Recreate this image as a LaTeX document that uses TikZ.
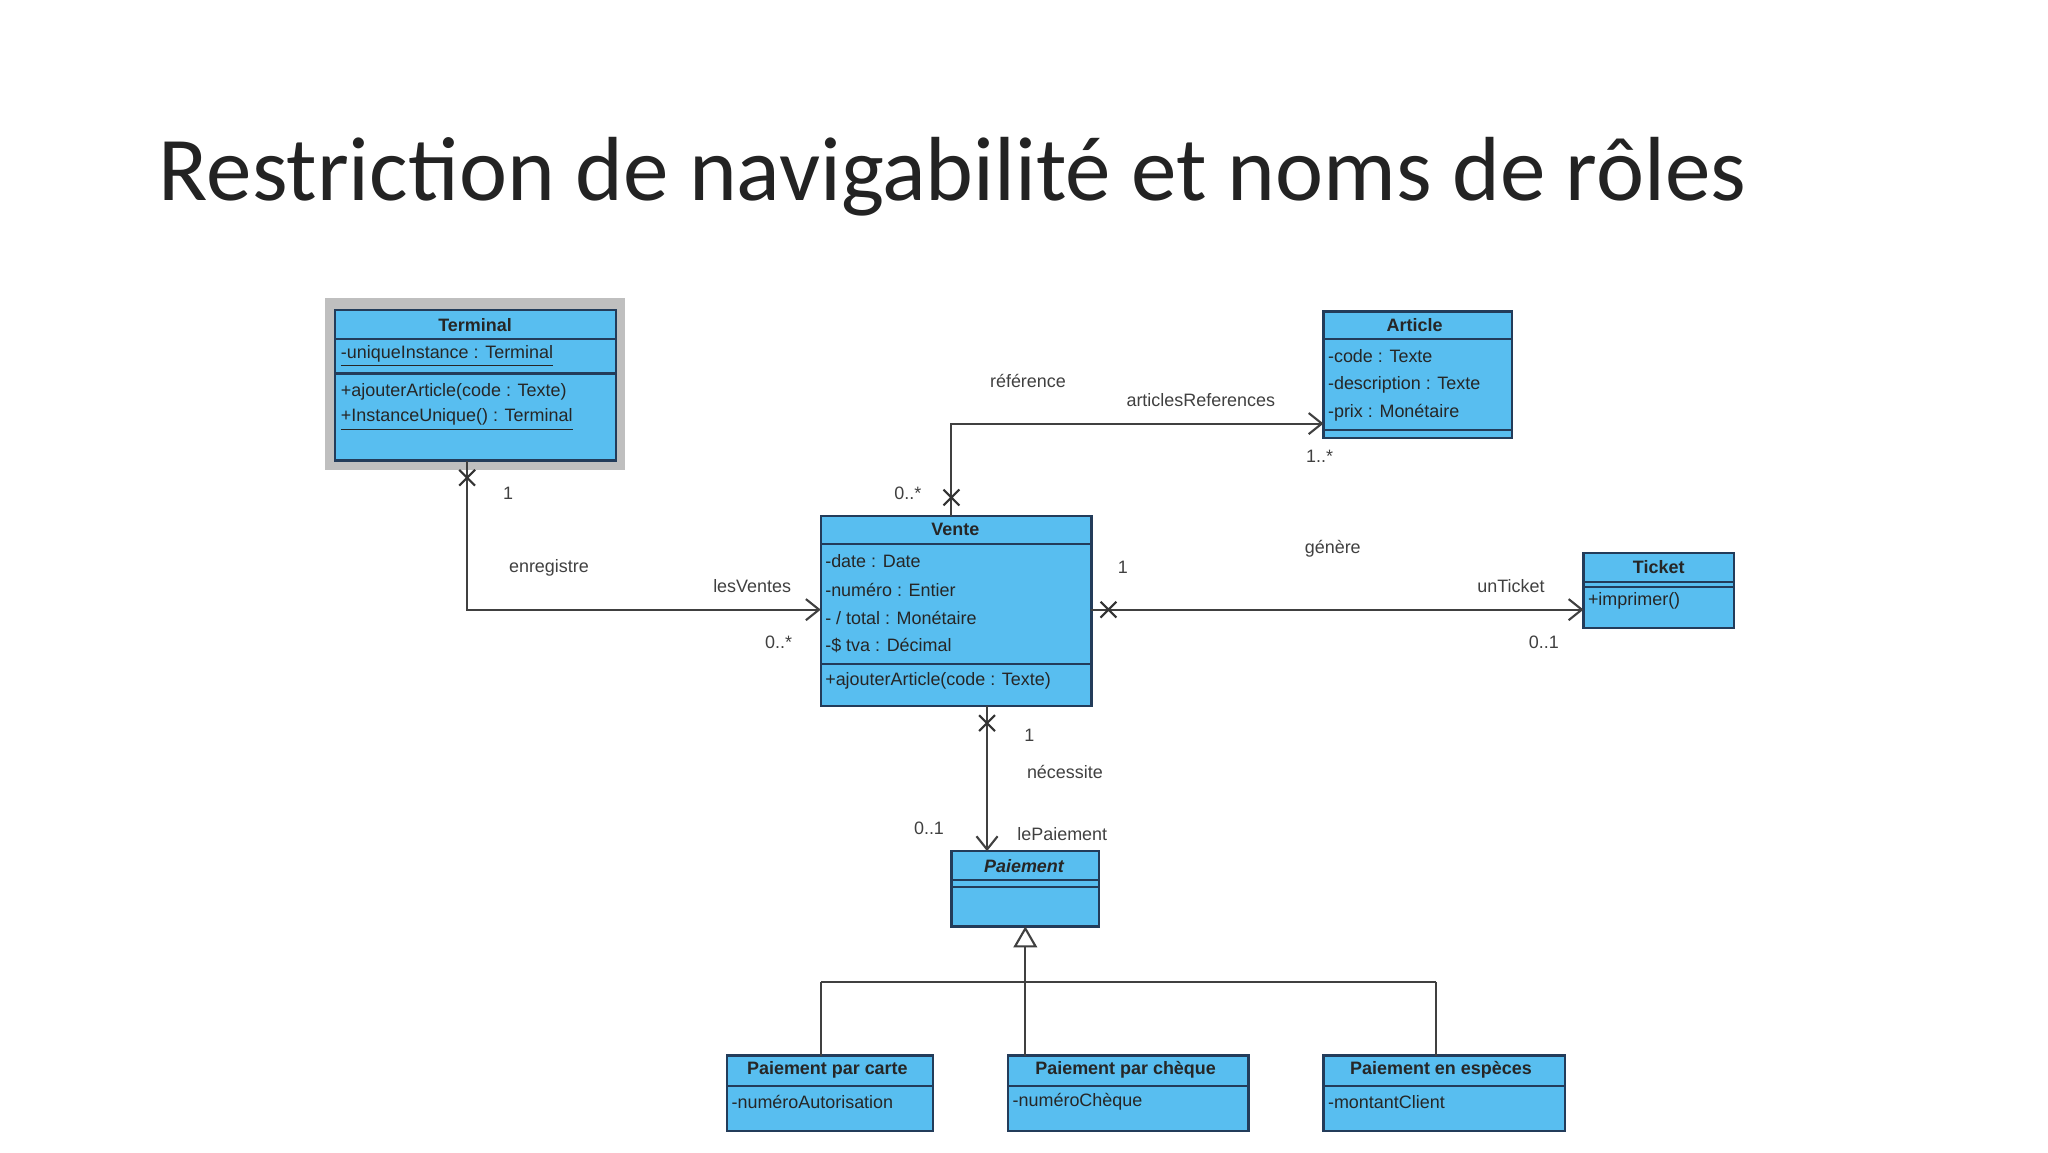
\documentclass[tikz,border=0pt]{standalone}
\usepackage{fontspec}
\setmainfont{Liberation Sans}
\newfontfamily\titlefont{Carlito}
\usetikzlibrary{arrows.meta,fit}
\definecolor{umlfill}{RGB}{88,190,240}
\definecolor{umldraw}{RGB}{35,60,90}
\definecolor{titlecol}{RGB}{35,35,35}
\tikzset{
  umlbox/.style={draw=umldraw,fill=umlfill,line width=0.9pt,inner sep=0pt},
  sect/.style={draw=umldraw,line width=0.8pt},
  txt/.style={anchor=west,inner sep=0pt,font=\fontsize{6.8}{8}\selectfont,text=black!85},
  hdr/.style={inner sep=0pt,font=\fontsize{6.8}{8}\selectfont\bfseries,text=black!85},
  lbl/.style={inner sep=0pt,font=\fontsize{6.8}{8}\selectfont,text=black!75},
  assoc/.style={draw=black!75,line width=0.8pt,-{Straight Barb[length=5pt,width=8pt]}},
  gen/.style={draw=black!75,line width=0.8pt},
  xmark/.style={draw=black!80,line width=0.8pt}
}
\newcommand{\xcross}[2]{\draw[xmark] (#1-6,#2-6) -- (#1+6,#2+6) (#1-6,#2+6) -- (#1+6,#2-6);}
\begin{document}
\begin{tikzpicture}[x=0.5pt,y=-0.5pt]
\path[fill=white,use as bounding box] (0,0) rectangle (1552,873);
\node[anchor=base west,inner sep=0pt,font=\titlefont\fontsize{34.5}{40}\selectfont,text=titlecol] (title) at (120,152) {Restriction de navigabilité et noms de rôles};

% Terminal
\fill[black!25] (246,226) rectangle (474,356);
\node[umlbox,fit={(254,235)(467,349)}] (term) {};
\draw[sect] (254,257) -- (467,257) (254,283) -- (467,283);
\node[hdr] (termh) at (360,246) {Terminal};
\node[txt] (t1) at (258,270) {\underline{-uniqueInstance : Terminal}};
\node[txt] (t2) at (258,297) {+ajouterArticle(code : Texte)};
\node[txt] (t3) at (258,318) {\underline{+InstanceUnique() : Terminal}};

% Article
\node[umlbox,fit={(1003,236)(1146,332)}] (art) {};
\draw[sect] (1003,257) -- (1146,257) (1003,326) -- (1146,326);
\node[hdr] (arth) at (1072,246) {Article};
\node[txt] (a1) at (1006,270) {-code : Texte};
\node[txt] (a2) at (1006,292) {-description : Texte};
\node[txt] (a3) at (1006,313) {-prix : Monétaire};

% Vente
\node[umlbox,fit={(622,391)(827,535)}] (vente) {};
\draw[sect] (622,412) -- (827,412) (622,503) -- (827,503);
\node[hdr] (venh) at (724,401) {Vente};
\node[txt] (v1) at (625,425) {-date : Date};
\node[txt] (v2) at (625,447) {-numéro : Entier};
\node[txt] (v3) at (625,468) {-~/ total : Monétaire};
\node[txt] (v4) at (625,489) {-\$ tva : Décimal};
\node[txt] (v5) at (625,516) {+ajouterArticle(code : Texte)};

% Ticket
\node[umlbox,fit={(1200,419)(1314,476)}] (tick) {};
\draw[sect] (1200,441) -- (1314,441) (1200,445) -- (1314,445);
\node[hdr] (tickh) at (1257,430) {Ticket};
\node[txt] (k1) at (1203,455) {+imprimer()};

% Paiement
\node[umlbox,fit={(721,645)(833,702)}] (paie) {};
\draw[sect] (721,667) -- (833,667) (721,672) -- (833,672);
\node[hdr,font=\fontsize{6.8}{8}\selectfont\bfseries\itshape] (paieh) at (776,656) {Paiement};

% Subclasses
\node[umlbox,fit={(551,800)(707,857)}] (carte) {};
\draw[sect] (551,823) -- (707,823);
\node[hdr] (ch) at (627,811) {Paiement par carte};
\node[txt] (c1) at (554,835) {-numéroAutorisation};

\node[umlbox,fit={(764,800)(946,857)}] (cheq) {};
\draw[sect] (764,823) -- (946,823);
\node[hdr] (qh) at (853,811) {Paiement par chèque};
\node[txt] (q1) at (767,835) {-numéroChèque};

\node[umlbox,fit={(1003,800)(1186,857)}] (esp) {};
\draw[sect] (1003,823) -- (1186,823);
\node[hdr] (eh) at (1092,811) {Paiement en espèces};
\node[txt] (e1) at (1006,835) {-montantClient};

% Terminal -> Vente
\coordinate (tv1) at (354,349);
\coordinate (tv2) at (354,462);
\coordinate (tv3) at (622,462);
\draw[assoc] (tv1) -- (tv2) -- (tv3);
\xcross{354}{362}
\node[lbl] (l1) at (385,374) {1};
\node[lbl] (l2) at (416,430) {enregistre};
\node[lbl] (l3) at (570,444) {lesVentes};
\node[lbl] (l4) at (590,487) {0..*};

% Vente -> Article
\coordinate (va1) at (721,391);
\coordinate (va2) at (721,321);
\coordinate (va3) at (1003,321);
\draw[assoc] (va1) -- (va2) -- (va3);
\xcross{721}{377}
\node[lbl] (l5) at (779,289) {référence};
\node[lbl] (l6) at (910,303) {articlesReferences};
\node[lbl] (l7) at (688,374) {0..*};
\node[lbl] (l8) at (1000,346) {1..*};

% Vente -> Ticket
\coordinate (vt1) at (827,462);
\coordinate (vt2) at (1200,462);
\draw[assoc] (vt1) -- (vt2);
\xcross{840}{462}
\node[lbl] (l9) at (851,430) {1};
\node[lbl] (l10) at (1010,416) {génère};
\node[lbl] (l11) at (1145,444) {unTicket};
\node[lbl] (l12) at (1170,487) {0..1};

% Vente -> Paiement
\coordinate (vp1) at (748,535);
\coordinate (vp2) at (748,645);
\draw[assoc] (vp1) -- (vp2);
\xcross{748}{548}
\node[lbl] (l13) at (780,557) {1};
\node[lbl] (l14) at (807,585) {nécessite};
\node[lbl] (l15) at (704,628) {0..1};
\node[lbl] (l16) at (805,632) {lePaiement};

% Generalization
\coordinate (g0) at (777,702);
\coordinate (g1) at (777,744);
\coordinate (gl) at (622,744);
\coordinate (gr) at (1088,744);
\draw[gen] (gl) -- (gr);
\draw[gen] (gl) -- (622,800);
\draw[gen] (gr) -- (1088,800);
\draw[gen] (777,800) -- (g1);
\draw[gen,-{Triangle[open,length=8pt,width=9pt]}] (g1) -- (g0);
\end{tikzpicture}
\end{document}
